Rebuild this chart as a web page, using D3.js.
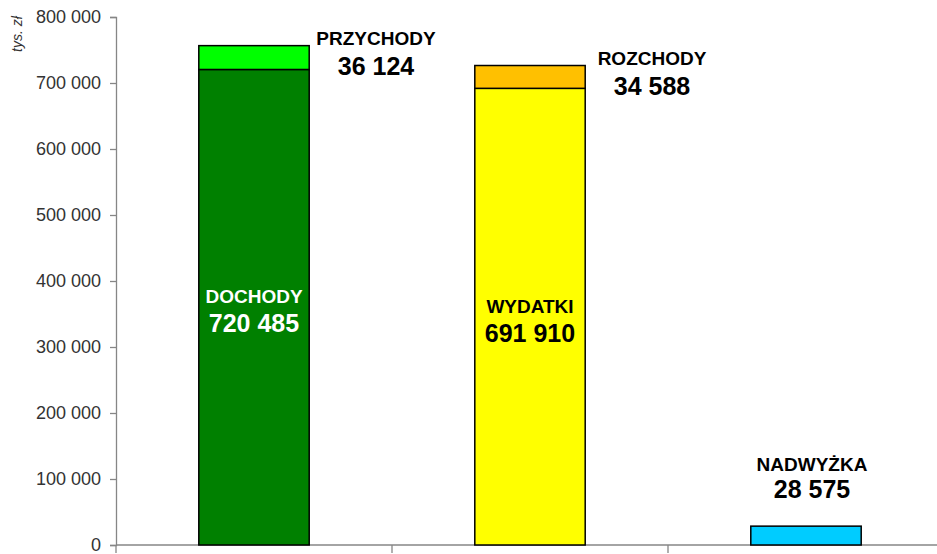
<html lang="pl">
<head>
  <meta charset="utf-8">
  <title>Budżet</title>
  <script src="https://d3js.org/d3.v7.min.js"></script>
  <style>
    html, body { margin: 0; padding: 0; overflow: hidden; background: #fff; }
    svg { display: block; font-family: Arial, "Liberation Sans", sans-serif; }
  </style>
</head>
<body>
  <svg width="937" height="554"></svg>
  <script>
    // dane
    const categories = ["budzet_dochody", "budzet_wydatki", "budzet_nadwyzka"];
    const baseNames = ["DOCHODY", "WYDATKI", "NADWYŻKA"];
    const baseValues = [720485, 691910, 28575];
    const topNames = ["PRZYCHODY", "ROZCHODY", ""];
    const topValues = [36124, 34588, 0];
    const yTicks = [0, 100000, 200000, 300000, 400000, 500000, 600000, 700000, 800000];

    const baseColors = ["#008000", "#ffff00", "#00ccff"];
    const topColors = ["#00ff00", "#ffc000", "none"];

    const fmt = v => d3.format(",")(v).replace(/,/g, " ");

    const svg = d3.select("svg");
    const margin = { left: 116, top: 17, right: -7, bottom: 9 };
    const width = 937 - margin.left - margin.right;
    const height = 554 - margin.top - margin.bottom;

    const g = svg.append("g").attr("transform", `translate(${margin.left},${margin.top})`);

    const x = d3.scaleBand().domain(categories).range([0, width]).paddingInner(0.6).paddingOuter(0.3);
    const xb = d3.scaleBand().domain(categories).range([0, width]);
    const y = d3.scaleLinear().domain([0, 800000]).range([height, 0]);

    // oś Y
    const yAxis = g.append("g")
      .call(d3.axisLeft(y).tickValues(yTicks).tickSize(6).tickPadding(9).tickFormat(fmt));
    yAxis.select(".domain").attr("stroke", "#868686").attr("stroke-width", 1.3);
    yAxis.selectAll(".tick line").attr("stroke", "#868686").attr("stroke-width", 1.3);
    yAxis.selectAll("text").attr("font-size", 18).attr("fill", "#333")
      .attr("font-family", "Arial, 'Liberation Sans', sans-serif");

    // oś X
    const xAxis = g.append("g").attr("transform", `translate(0,${height})`);
    xAxis.append("line").attr("x1", 0).attr("x2", width).attr("stroke", "#868686").attr("stroke-width", 1.3);
    xAxis.selectAll(".xt")
      .data(categories.concat(["end"]))
      .enter()
      .append("line")
      .attr("x1", (d, i) => i * xb.step())
      .attr("x2", (d, i) => i * xb.step())
      .attr("y1", 0).attr("y2", 8)
      .attr("stroke", "#868686").attr("stroke-width", 1.3);

    // jednostka
    svg.append("text")
      .attr("transform", "translate(22,34) rotate(-90)")
      .attr("text-anchor", "middle")
      .attr("font-size", 14)
      .attr("font-style", "italic")
      .attr("fill", "#333")
      .text("tys. zł");

    // słupki
    g.selectAll(".base")
      .data(categories)
      .enter()
      .append("rect")
      .attr("x", d => x(d))
      .attr("width", x.bandwidth())
      .attr("y", (d, i) => y(baseValues[i]))
      .attr("height", (d, i) => y(0) - y(baseValues[i]))
      .attr("fill", (d, i) => baseColors[i])
      .attr("stroke", "#000")
      .attr("stroke-width", 1.5);

    g.selectAll(".top")
      .data(categories.filter((d, i) => topValues[i] > 0))
      .enter()
      .append("rect")
      .attr("x", d => x(d))
      .attr("width", x.bandwidth())
      .attr("y", d => { const i = categories.indexOf(d); return y(baseValues[i] + topValues[i]); })
      .attr("height", d => { const i = categories.indexOf(d); return y(baseValues[i]) - y(baseValues[i] + topValues[i]); })
      .attr("fill", d => topColors[categories.indexOf(d)])
      .attr("stroke", "#000")
      .attr("stroke-width", 1.5);

    // etykiety wewnątrz słupków
    const inside = [0, 1];
    const insideColor = ["#fff", "#000"];
    inside.forEach(i => {
      const cx = x(categories[i]) + x.bandwidth() / 2;
      const cy = (y(baseValues[i]) + y(0)) / 2;
      g.append("text").attr("x", cx).attr("y", cy - 4)
        .attr("text-anchor", "middle").attr("font-weight", "bold").attr("font-size", 19)
        .attr("fill", insideColor[i]).text(baseNames[i]);
      g.append("text").attr("x", cx).attr("y", cy + 25)
        .attr("text-anchor", "middle").attr("font-weight", "bold").attr("font-size", 25)
        .attr("fill", insideColor[i]).text(fmt(baseValues[i]));
    });

    // etykiety części górnych
    [0, 1].forEach(i => {
      const cx = x(categories[i]) + x.bandwidth() / 2 + 122;
      const ty = y(baseValues[i] + topValues[i]);
      g.append("text").attr("x", cx).attr("y", ty - 1)
        .attr("text-anchor", "middle").attr("font-weight", "bold").attr("font-size", 19)
        .attr("fill", "#000").text(topNames[i]);
      g.append("text").attr("x", cx).attr("y", ty + 29)
        .attr("text-anchor", "middle").attr("font-weight", "bold").attr("font-size", 25)
        .attr("fill", "#000").text(fmt(topValues[i]));
    });

    // nadwyżka
    {
      const i = 2;
      const cx = x(categories[i]) + x.bandwidth() / 2 + 6;
      const ty = y(baseValues[i]);
      g.append("text").attr("x", cx).attr("y", ty - 55)
        .attr("text-anchor", "middle").attr("font-weight", "bold").attr("font-size", 19)
        .attr("fill", "#000").text(baseNames[i]);
      g.append("text").attr("x", cx).attr("y", ty - 28)
        .attr("text-anchor", "middle").attr("font-weight", "bold").attr("font-size", 25)
        .attr("fill", "#000").text(fmt(baseValues[i]));
    }
  </script>
</body>
</html>
